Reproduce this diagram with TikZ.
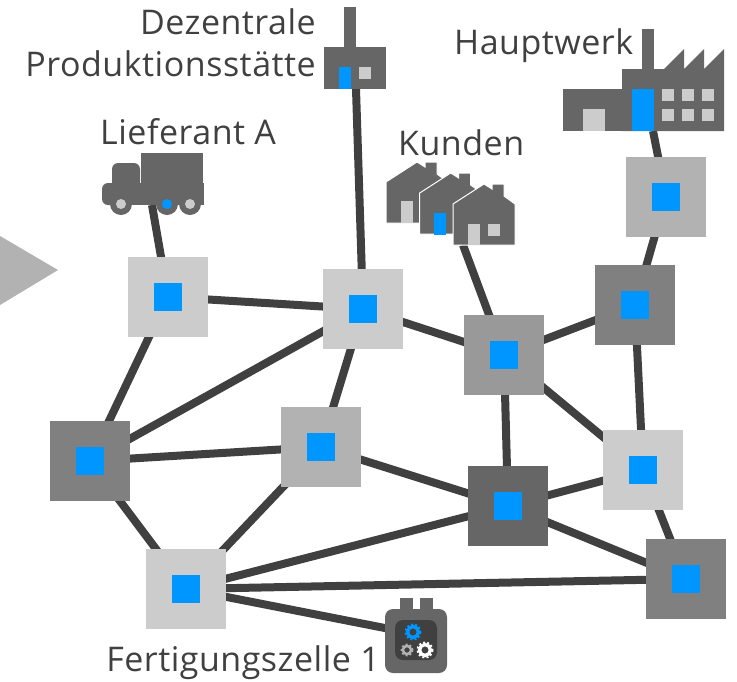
\documentclass[tikz,border=0pt]{standalone}
\usepackage{fontspec}
\setmainfont[LetterSpace=1.5]{Open Sans}
\usetikzlibrary{backgrounds}
\definecolor{blau}{HTML}{0096FF}
\definecolor{dunkel}{HTML}{404040}
\definecolor{icon}{HTML}{666666}
\definecolor{hell}{HTML}{CCCCCC}
\tikzset{
  zelle/.style={minimum size=80pt,inner sep=0pt,outer sep=0pt,fill=#1},
  kern/.style={minimum size=28pt,inner sep=0pt,fill=blau},
  edge/.style={draw=dunkel,line width=8pt},
  titel/.style={text=dunkel,font=\fontsize{34}{40}\selectfont,inner sep=0pt},
  haus/.style={fill=icon,draw=white,line width=1pt}
}
\newcommand{\zahnrad}[4]{% x, y, radius, colour
  \draw[#4,line width=#3*0.42pt] (#1,#2) circle (#3*0.68);
  \draw[#4,line width=#3*0.22pt,dash pattern=on 2pt off 2.2pt] (#1,#2) circle (#3*0.95);
}
\begin{document}
\begin{tikzpicture}[x=1pt,y=-1pt]
  \useasboundingbox (0,0) rectangle (737,681);
  % Pfeil
  \fill[black!30] (0,236) -- (58,270) -- (0,305) -- cycle;
  % Zellen
  \node[zelle=hell] (a) at (168,297) {};
  \node[zelle=hell] (b) at (363,309) {};
  \node[zelle=black!40] (c) at (504,355) {};
  \node[zelle=black!50] (d) at (635,305) {};
  \node[zelle=black!30] (e) at (666,197) {};
  \node[zelle=black!50] (f) at (90,461) {};
  \node[zelle=black!30] (g) at (321,447) {};
  \node[zelle=icon] (h) at (508,506) {};
  \node[zelle=hell] (i) at (643,470) {};
  \node[zelle=black!50] (j) at (686,579) {};
  \node[zelle=hell] (k) at (186,589) {};
  \foreach \n in {a,b,c,d,e,f,g,h,i,j,k}
    \node[kern] (kern\n) at (\n) {};
  % Anschlusspunkte der Symbole
  \coordinate (lieferant) at (152,205);
  \coordinate (dezentral) at (356,89);
  \coordinate (kunden) at (463,245);
  \coordinate (hauptwerk) at (653,131);
  \coordinate (fertigung) at (395,630);
  % Verbindungen
  \begin{scope}[on background layer]
    \foreach \s/\t in {lieferant/a,dezentral/b,kunden/c,hauptwerk/e,e/d,d/c,d/i,c/b,c/h,c/i,
                       b/a,b/f,b/g,a/f,f/g,f/k,g/k,g/h,h/i,h/j,h/k,i/j,j/k,k/fertigung}
      \draw[edge] (\s.center) -- (\t.center);
  \end{scope}
  % Lieferant A
  \fill[icon] (141,153) rectangle (203,183);
  \fill[icon,rounded corners=6pt] (112,183) -- (112,163) -- (140,163) -- (140,190) -- (112,190) -- cycle;
  \fill[icon,rounded corners=6pt] (102,205) -- (102,183) -- (125,183) -- (125,205) -- cycle;
  \fill[icon] (110,183) rectangle (204,205);
  \foreach \x/\c in {121/hell,167/blau,190/hell} {
    \fill[icon] (\x,204) circle (11);
    \fill[\c] (\x,204) circle (5);
  }
  % Dezentrale Produktionsstaette
  \fill[icon] (344,7) rectangle (356,47);
  \fill[icon] (324,47) rectangle (386,89);
  \fill[blau] (339,67) rectangle (351,89);
  \fill[hell] (359,67) rectangle (371,79);
  % Kunden
  \foreach \dx/\dy in {0/0,33.7/11,67/22} {
    \begin{scope}[shift={(386+\dx,162+\dy)}]
      \draw[haus] (0,20) -- (31,0) -- (39,5) -- (39,0) -- (51,0) -- (51,12) -- (62,20)
        -- (62,61) -- (0,61) -- cycle;
    \end{scope}
  }
  \fill[hell] (401,201) rectangle (413,223);
  \fill[blau] (434,213) rectangle (446,235);
  \fill[hell] (468,224) rectangle (480,245);
  \fill[hell] (488,224) rectangle (500,236);
  % Hauptwerk
  \fill[icon] (642,29) rectangle (654,69);
  \fill[icon] (563,89) rectangle (622,131);
  \fill[icon] (622,131) -- (622,69) -- (664,69) -- (684,49) -- (684,69) -- (704,49) -- (704,69)
    -- (724,49) -- (724,131) -- cycle;
  \fill[hell] (583,109) rectangle (605,131);
  \fill[blau] (632,89) rectangle (654,131);
  \foreach \x in {662,682,702}
    \foreach \y in {89,109}
      \fill[hell] (\x,\y) rectangle (\x+12,\y+12);
  % Fertigungszelle
  \fill[icon] (400,598) rectangle (413,615);
  \fill[icon] (420,598) rectangle (433,615);
  \fill[icon,rounded corners=8pt] (385,609) rectangle (447,673);
  \fill[dunkel,rounded corners=8pt] (395,620) rectangle (437,660);
  \zahnrad{413}{632}{8}{blau}
  \zahnrad{407}{650}{6}{black!30}
  \zahnrad{425}{650}{8}{white}
  % Beschriftung
  \node[titel,anchor=base east] (tdez) at (316,34) {Dezentrale};
  \node[titel,anchor=base east] (tprod) at (316,76) {Produktionsstätte};
  \node[titel,anchor=base west] (tlief) at (100,144) {Lieferant A};
  \node[titel,anchor=base west] (tkund) at (398,155) {Kunden};
  \node[titel,anchor=base west] (thaupt) at (454,54) {Hauptwerk};
  \node[titel,anchor=base east] (tfert) at (380,671) {Fertigungszelle 1};
\end{tikzpicture}
\end{document}
